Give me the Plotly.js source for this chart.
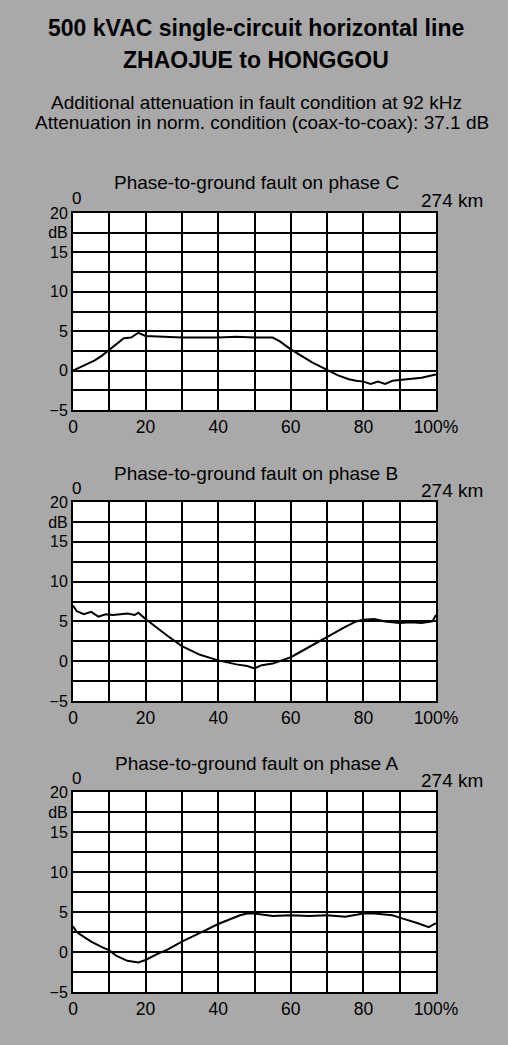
<!DOCTYPE html>
<html>
<head>
<meta charset="utf-8">
<script src="https://cdn.plot.ly/plotly-3.0.1.min.js"></script>
<style>
html,body{margin:0;padding:0;background:#a9a9a9;}
#chart{width:508px;height:1045px;}
</style>
</head>
<body>
<div id="chart"></div>
<script>
// ---- data (fault location in % of line length, additional attenuation in dB) ----
const xC = [0, 3, 6, 8, 10, 12, 14, 16, 18, 20, 25, 30, 35, 40, 45, 50, 55, 57, 60, 63, 66, 70, 73, 76, 78, 80, 82, 84, 86, 88, 90, 93, 96, 100];
const yC = [0, 0.6, 1.3, 1.9, 2.6, 3.3, 4.1, 4.2, 4.8, 4.4, 4.3, 4.2, 4.2, 4.2, 4.3, 4.2, 4.2, 3.7, 2.7, 1.8, 1.0, 0.1, -0.6, -1.1, -1.3, -1.4, -1.7, -1.4, -1.7, -1.3, -1.2, -1.1, -0.9, -0.5];

const xB = [0, 1, 3, 5, 7, 9, 11, 13, 15, 17, 18, 20, 23, 26, 30, 35, 40, 45, 48, 50, 52, 55, 60, 65, 70, 75, 78, 80, 83, 86, 90, 93, 96, 99, 100];
const yB = [7.0, 6.3, 5.9, 6.2, 5.6, 5.9, 5.8, 5.9, 6.0, 5.8, 6.1, 5.3, 4.2, 3.2, 1.9, 0.8, 0.1, -0.4, -0.6, -0.9, -0.5, -0.3, 0.5, 1.8, 3.1, 4.3, 5.0, 5.2, 5.3, 5.0, 4.8, 4.9, 4.8, 5.0, 5.8];

const xA = [0, 1, 3, 5, 8, 10, 12, 15, 18, 20, 23, 26, 30, 33, 36, 40, 43, 46, 48, 50, 55, 60, 65, 70, 75, 80, 83, 86, 88, 90, 93, 95, 98, 100];
const yA = [3.2, 2.5, 1.9, 1.3, 0.6, 0.2, -0.5, -1.1, -1.3, -1.0, -0.3, 0.3, 1.3, 2.0, 2.6, 3.5, 4.1, 4.6, 4.8, 4.8, 4.5, 4.6, 4.5, 4.6, 4.4, 4.8, 4.8, 4.7, 4.6, 4.3, 3.9, 3.6, 3.1, 3.6];

const panelTitles = ["Phase-to-ground fault on phase C", "Phase-to-ground fault on phase B", "Phase-to-ground fault on phase A"];
const yTickVals = [-5, -2.5, 0, 2.5, 5, 7.5, 10, 12.5, 15, 17.5, 20];
const yTickText = ["\u22125", "", "0", "", "5", "", "10", "", "15", "dB", "20"];
const xTickVals = [0, 10, 20, 30, 40, 50, 60, 70, 80, 90, 100];
const xTickText = ["0", "", "20", "", "40", "", "60", "", "80", "", "100%"];
const headerLines = ["500 kVAC single-circuit horizontal line", "ZHAOJUE to HONGGOU",
  "Additional attenuation in fault condition at 92 kHz",
  "Attenuation in norm. condition (coax-to-coax): 37.1 dB"];
const lineLength = "274 km";

// ---- layout ----
const W = 508, H = 1045;
const FONT = "Liberation Sans, Arial, sans-serif";
const xDom = [73 / W, 436 / W];
const plotPix = [[213, 410], [502, 701], [792, 992]]; // top, bottom in px
const series = [[xC, yC], [xB, yB], [xA, yA]];

const data = [];
const layout = {
  width: W, height: H,
  margin: {l: 0, r: 0, t: 0, b: 0},
  paper_bgcolor: "#a9a9a9",
  plot_bgcolor: "#ffffff",
  showlegend: false,
  font: {family: FONT, color: "#000", size: 16},
  annotations: []
};

series.forEach((s, i) => {
  const n = i === 0 ? "" : String(i + 1);
  data.push({
    x: s[0], y: s[1], type: "scatter", mode: "lines",
    line: {color: "#000", width: 2},
    xaxis: "x" + n, yaxis: "y" + n, hoverinfo: "skip"
  });
  const [top, bot] = plotPix[i];
  layout["xaxis" + n] = {
    domain: xDom, range: [0, 100], anchor: "y" + n,
    tickmode: "array", tickvals: xTickVals, ticktext: xTickText,
    showgrid: true, gridcolor: "#000", gridwidth: 2,
    showline: true, linecolor: "#000", linewidth: 2, mirror: true,
    ticks: "", zeroline: false, tickfont: {size: 17.5, family: FONT}, fixedrange: true
  };
  layout["yaxis" + n] = {
    domain: [1 - bot / H, 1 - top / H], range: [-5, 20], anchor: "x" + n,
    tickmode: "array", tickvals: yTickVals, ticktext: yTickText,
    showgrid: true, gridcolor: "#000", gridwidth: 2,
    showline: true, linecolor: "#000", linewidth: 2, mirror: true,
    ticks: "", zeroline: false, tickfont: {size: 16, family: FONT}, fixedrange: true
  };
  const titleY = [183, 473, 763][i];
  layout.annotations.push({
    text: panelTitles[i], xref: "paper", yref: "paper",
    x: 256 / W, y: 1 - titleY / H, xanchor: "center", yanchor: "middle",
    showarrow: false, font: {size: 19, family: FONT}
  });
  layout.annotations.push({
    text: "0", xref: "paper", yref: "paper",
    x: 76 / W, y: 1 - (titleY + 15) / H, xanchor: "center", yanchor: "middle",
    showarrow: false, font: {size: 17, family: FONT}
  });
  layout.annotations.push({
    text: lineLength, xref: "paper", yref: "paper",
    x: 485 / W, y: 1 - (titleY + 17) / H, xanchor: "right", yanchor: "middle",
    showarrow: false, font: {size: 19, family: FONT}
  });
});

const headerY = [28, 60, 102, 122];
const headerSize = [23, 23, 19, 19];
headerLines.forEach((t, k) => {
  layout.annotations.push({
    text: k < 2 ? "<b>" + t + "</b>" : t, xref: "paper", yref: "paper",
    x: (k === 3 ? 262 : 256) / W, y: 1 - headerY[k] / H, xanchor: "center", yanchor: "middle",
    showarrow: false, font: {size: headerSize[k], family: FONT}
  });
});

Plotly.newPlot("chart", data, layout, {displayModeBar: false, staticPlot: true});
</script>
</body>
</html>
